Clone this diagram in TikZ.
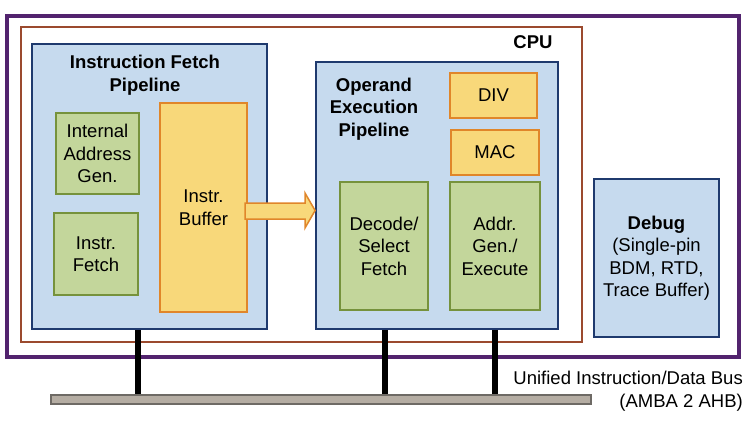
\documentclass[tikz,border=0pt]{standalone}
\usepackage{fontspec}
\setmainfont{Liberation Sans}
\usetikzlibrary{calc}
\definecolor{chipline}{HTML}{52236E}
\definecolor{cpuline}{HTML}{9B4A2E}
\definecolor{paleblue}{HTML}{C6DAEE}
\definecolor{navyline}{HTML}{1F3A6E}
\definecolor{leafgreen}{HTML}{C3D69B}
\definecolor{olivegreen}{HTML}{76923C}
\definecolor{buffyellow}{HTML}{F8D87A}
\definecolor{buffline}{HTML}{E0862A}
\definecolor{busgray}{HTML}{B5ADA3}
\definecolor{busline}{HTML}{6E6A65}

\begin{document}
\begin{tikzpicture}[x=1pt,y=-1pt,
    every node/.style={font=\fontsize{18.5}{22.5}\selectfont, align=center, inner sep=0pt},
    pipebox/.style={draw=navyline, fill=paleblue, line width=1.8pt},
    greenbox/.style={draw=olivegreen, fill=leafgreen, line width=1.5pt},
    yellowbox/.style={draw=buffline, fill=buffyellow, line width=1.5pt},
    title/.style={font=\fontsize{18.5}{22.5}\selectfont\bfseries},
    buswire/.style={line width=6pt, black}]
  \useasboundingbox (0,0) rectangle (755,429);

  % chip and cpu outlines
  \draw[chipline, line width=3.5pt] (7,16) rectangle (739,357);
  \draw[cpuline, line width=1.5pt] (21,27) rectangle (582,342);
  \node[title] (cpu) at (533,42) {CPU};

  % instruction fetch pipeline
  \node[pipebox, minimum width=235pt, minimum height=285pt] (ifp) at (149.5,186.5) {};
  \node[title] (iftitle) at (145,75) {Instruction Fetch\\Pipeline};
  \node[greenbox, minimum width=83pt, minimum height=81pt] (iag) at (97.5,153.5) {Internal\\Address\\Gen.};
  \node[greenbox, minimum width=84pt, minimum height=82pt] (ifetch) at (96,254) {Instr.\\Fetch};
  \node[yellowbox, minimum width=87pt, minimum height=209pt] (buf) at (203.5,207.5) {Instr.\\Buffer};

  % operand execution pipeline
  \node[pipebox, minimum width=242pt, minimum height=267pt] (oep) at (437,195.5) {};
  \node[title] (oetitle) at (374,109) {Operand\\Execution\\Pipeline};
  \node[yellowbox, minimum width=87pt, minimum height=45pt] (div) at (493.5,95.5) {DIV};
  \node[yellowbox, minimum width=88pt, minimum height=45pt] (mac) at (495,152.5) {MAC};
  \node[greenbox, minimum width=88pt, minimum height=128pt] (dec) at (384,246) {Decode/\\Select\\Fetch};
  \node[greenbox, minimum width=90pt, minimum height=128pt] (agx) at (495,246) {Addr.\\Gen./\\Execute};

  % buffer to operand pipeline
  \draw[yellowbox, line join=miter] (245,203) -- (305,203) -- (305,193)
    -- (oep.west |- 0,210.5) -- (305,228) -- (305,219) -- (245,219) -- cycle;

  % debug
  \node[pipebox, minimum width=125pt, minimum height=158pt] (dbg) at (656.5,258)
    {\textbf{Debug}\\(Single-pin\\BDM, RTD,\\Trace Buffer)};

  % bus
  \coordinate (t1) at (138,400);
  \coordinate (t2) at (385,400);
  \coordinate (t3) at (495,400);
  \draw[buswire] (ifp.south -| t1) -- (t1);
  \draw[buswire] (oep.south -| t2) -- (t2);
  \draw[buswire] (oep.south -| t3) -- (t3);
  \node[draw=busline, fill=busgray, line width=1.2pt, minimum width=540pt, minimum height=9pt] (bus) at (321,399.5) {};
  \node[anchor=east, align=right] (buslabel) at (743,391) {Unified Instruction/Data Bus\\(AMBA 2 AHB)};
\end{tikzpicture}
\end{document}
